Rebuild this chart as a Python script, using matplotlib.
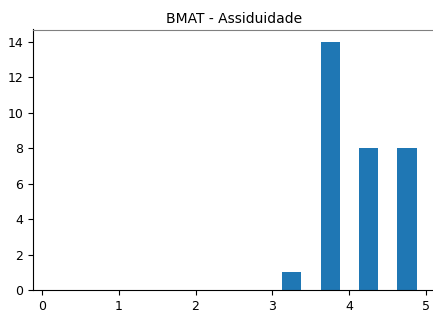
import matplotlib
matplotlib.use("Agg")
import matplotlib.pyplot as plt
import numpy as np

# assiduidade histogram: bin edges 0..5 step 0.5, counts per bin
bin_edges = np.arange(0, 5.01, 0.5)
counts = [0, 0, 0, 0, 0, 0, 1, 14, 8, 8]
title = "BMAT - Assiduidade"

fig = plt.figure(figsize=(4.33, 3.10), dpi=100)
ax = fig.add_axes([33 / 433, 20 / 310, 402 / 433, 260.5 / 310])

centers = (bin_edges[:-1] + bin_edges[1:]) / 2
ax.hist(centers, bins=bin_edges, weights=counts, rwidth=0.5, color="#1f77b4")

ax.set_title(title, fontsize=10, pad=5)
ax.spines["right"].set_visible(False)
ax.spines["top"].set_color("#808080")
ax.set_yticks(range(0, 15, 2))
ax.tick_params(labelsize=9)

fig.savefig("out.png", dpi=100)
